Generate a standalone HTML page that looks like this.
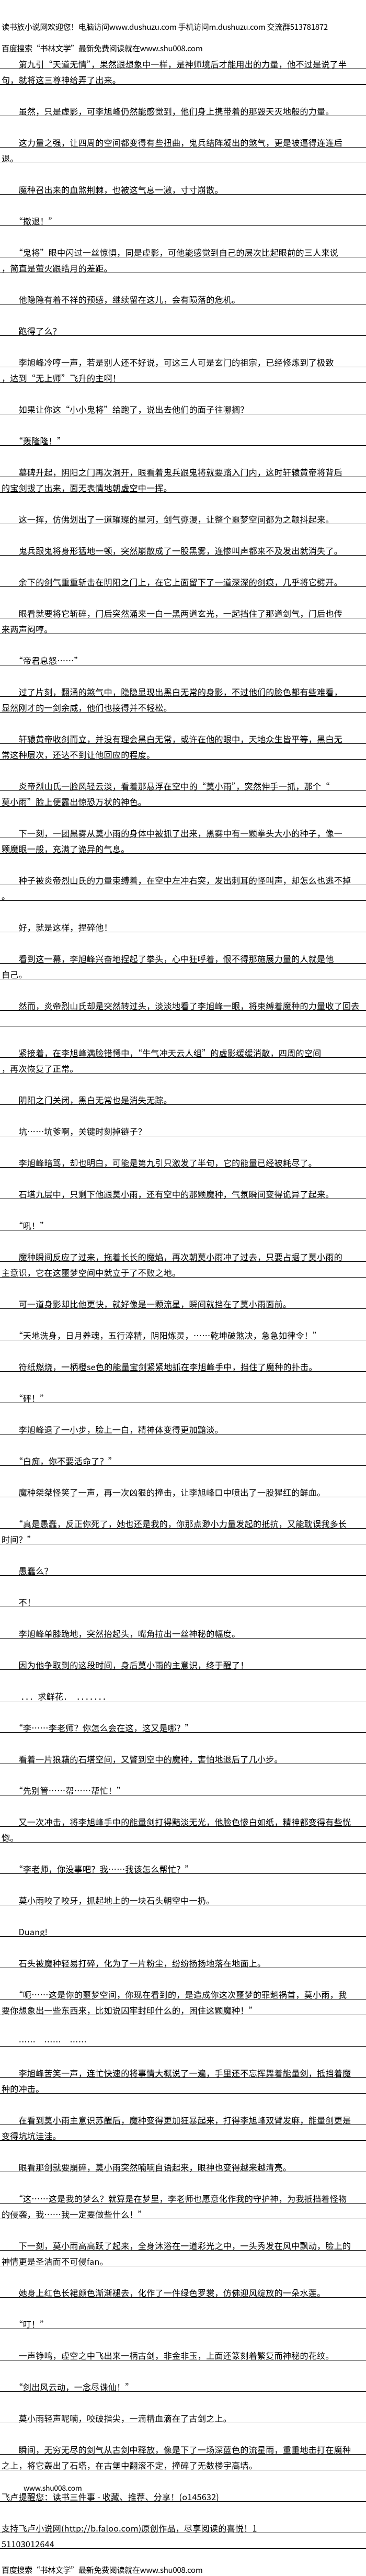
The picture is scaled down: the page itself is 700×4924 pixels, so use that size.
<!DOCTYPE html>
<html><head><meta charset="utf-8"><style>
html,body{margin:0;padding:0;background:#fff;}
body{width:700px;height:4924px;position:relative;overflow:hidden;font-family:"Noto Sans CJK SC","WenQuanYi Zen Hei","Liberation Sans",sans-serif;font-size:16px;color:#000;letter-spacing:0.3px;}
.l{position:absolute;left:0;width:700px;height:30px;box-sizing:border-box;border-bottom:1px solid #000;padding:12px 0 0 3px;line-height:17px;white-space:nowrap;overflow:hidden;}
.h{position:absolute;left:3px;height:20px;line-height:20px;white-space:nowrap;font-size:15px;letter-spacing:-0.3px;}
</style></head><body>
<div class="h" style="top:42px">读书族小说网欢迎您！电脑访问www.dushuzu.com 手机访问m.dushuzu.com 交流群513781872</div>
<div class="h" style="top:83px">百度搜索“书林文学”最新免费阅读就在www.shu008.com</div>

<div class="l" style="top:102px">　　第九引“天道无情”，果然跟想象中一样，是神师境后才能用出的力量，他不过是说了半</div>
<div class="l" style="top:132px">句，就将这三尊神给弄了出来。</div>
<div class="l" style="top:192px">　　虽然，只是虚影，可李旭峰仍然能感觉到，他们身上携带着的那毁天灭地般的力量。</div>
<div class="l" style="top:252px">　　这力量之强，让四周的空间都变得有些扭曲，鬼兵结阵凝出的煞气，更是被逼得连连后</div>
<div class="l" style="top:282px">退。</div>
<div class="l" style="top:342px">　　魔种召出来的血煞荆棘，也被这气息一激，寸寸崩散。</div>
<div class="l" style="top:402px">　　“撤退！”</div>
<div class="l" style="top:462px">　　“鬼将”眼中闪过一丝惊惧，同是虚影，可他能感觉到自己的层次比起眼前的三人来说</div>
<div class="l" style="top:492px">，简直是萤火跟皓月的差距。</div>
<div class="l" style="top:552px">　　他隐隐有着不祥的预感，继续留在这儿，会有陨落的危机。</div>
<div class="l" style="top:612px">　　跑得了么？</div>
<div class="l" style="top:672px">　　李旭峰冷哼一声，若是别人还不好说，可这三人可是玄门的祖宗，已经修炼到了极致</div>
<div class="l" style="top:702px">，达到“无上师”飞升的主啊！</div>
<div class="l" style="top:762px">　　如果让你这“小小鬼将”给跑了，说出去他们的面子往哪搁？</div>
<div class="l" style="top:822px">　　“轰隆隆！”</div>
<div class="l" style="top:882px">　　墓碑升起，阴阳之门再次洞开，眼看着鬼兵跟鬼将就要踏入门内，这时轩辕黄帝将背后</div>
<div class="l" style="top:912px">的宝剑拔了出来，面无表情地朝虚空中一挥。</div>
<div class="l" style="top:972px">　　这一挥，仿佛划出了一道璀璨的星河，剑气弥漫，让整个噩梦空间都为之颤抖起来。</div>
<div class="l" style="top:1032px">　　鬼兵跟鬼将身形猛地一顿，突然崩散成了一股黑雾，连惨叫声都来不及发出就消失了。</div>
<div class="l" style="top:1092px">　　余下的剑气重重斩击在阴阳之门上，在它上面留下了一道深深的剑痕，几乎将它劈开。</div>
<div class="l" style="top:1152px">　　眼看就要将它斩碎，门后突然涌来一白一黑两道玄光，一起挡住了那道剑气，门后也传</div>
<div class="l" style="top:1182px">来两声闷哼。</div>
<div class="l" style="top:1242px">　　“帝君息怒……”</div>
<div class="l" style="top:1302px">　　过了片刻，翻涌的煞气中，隐隐显现出黑白无常的身影，不过他们的脸色都有些难看，</div>
<div class="l" style="top:1332px">显然刚才的一剑余威，他们也接得并不轻松。</div>
<div class="l" style="top:1392px">　　轩辕黄帝收剑而立，并没有理会黑白无常，或许在他的眼中，天地众生皆平等，黑白无</div>
<div class="l" style="top:1422px">常这种层次，还达不到让他回应的程度。</div>
<div class="l" style="top:1482px">　　炎帝烈山氏一脸风轻云淡，看着那悬浮在空中的“莫小雨”，突然伸手一抓，那个“</div>
<div class="l" style="top:1512px">莫小雨”脸上便露出惊恐万状的神色。</div>
<div class="l" style="top:1572px">　　下一刻，一团黑雾从莫小雨的身体中被抓了出来，黑雾中有一颗拳头大小的种子，像一</div>
<div class="l" style="top:1602px">颗魔眼一般，充满了诡异的气息。</div>
<div class="l" style="top:1662px">　　种子被炎帝烈山氏的力量束缚着，在空中左冲右突，发出刺耳的怪叫声，却怎么也逃不掉</div>
<div class="l" style="top:1692px">。</div>
<div class="l" style="top:1752px">　　好，就是这样，捏碎他！</div>
<div class="l" style="top:1812px">　　看到这一幕，李旭峰兴奋地捏起了拳头，心中狂呼着，恨不得那施展力量的人就是他</div>
<div class="l" style="top:1842px">自己。</div>
<div class="l" style="top:1902px">　　然而，炎帝烈山氏却是突然转过头，淡淡地看了李旭峰一眼，将束缚着魔种的力量收了回去</div>
<div class="l" style="top:1932px"></div>
<div class="l" style="top:1992px">　　紧接着，在李旭峰满脸错愕中，“牛气冲天云人组”的虚影缓缓消散，四周的空间</div>
<div class="l" style="top:2022px">，再次恢复了正常。</div>
<div class="l" style="top:2082px">　　阴阳之门关闭，黑白无常也是消失无踪。</div>
<div class="l" style="top:2142px">　　坑……坑爹啊，关键时刻掉链子？</div>
<div class="l" style="top:2202px">　　李旭峰暗骂，却也明白，可能是第九引只激发了半句，它的能量已经被耗尽了。</div>
<div class="l" style="top:2262px">　　石塔九层中，只剩下他跟莫小雨，还有空中的那颗魔种，气氛瞬间变得诡异了起来。</div>
<div class="l" style="top:2322px">　　“吼！”</div>
<div class="l" style="top:2382px">　　魔种瞬间反应了过来，拖着长长的魔焰，再次朝莫小雨冲了过去，只要占据了莫小雨的</div>
<div class="l" style="top:2412px">主意识，它在这噩梦空间中就立于了不败之地。</div>
<div class="l" style="top:2472px">　　可一道身影却比他更快，就好像是一颗流星，瞬间就挡在了莫小雨面前。</div>
<div class="l" style="top:2532px">　　“天地洗身，日月养魂，五行淬精，阴阳炼灵，……乾坤破煞决，急急如律令！”</div>
<div class="l" style="top:2592px">　　符纸燃烧，一柄橙se色的能量宝剑紧紧地抓在李旭峰手中，挡住了魔种的扑击。</div>
<div class="l" style="top:2652px">　　“砰！”</div>
<div class="l" style="top:2712px">　　李旭峰退了一小步，脸上一白，精神体变得更加黯淡。</div>
<div class="l" style="top:2772px">　　“白痴，你不要活命了？”</div>
<div class="l" style="top:2832px">　　魔种桀桀怪笑了一声，再一次凶狠的撞击，让李旭峰口中喷出了一股猩红的鲜血。</div>
<div class="l" style="top:2892px">　　“真是愚蠢，反正你死了，她也还是我的，你那点渺小力量发起的抵抗，又能耽误我多长</div>
<div class="l" style="top:2922px">时间？”</div>
<div class="l" style="top:2982px">　　愚蠢么？</div>
<div class="l" style="top:3042px">　　不！</div>
<div class="l" style="top:3102px">　　李旭峰单膝跪地，突然抬起头，嘴角拉出一丝神秘的幅度。</div>
<div class="l" style="top:3162px">　　因为他争取到的这段时间，身后莫小雨的主意识，终于醒了！</div>
<div class="l" style="top:3222px">　　 ．．．求鲜花．　．．．．．．．</div>
<div class="l" style="top:3282px">　　“李……李老师？你怎么会在这，这又是哪？”</div>
<div class="l" style="top:3342px">　　看着一片狼藉的石塔空间，又瞥到空中的魔种，害怕地退后了几小步。</div>
<div class="l" style="top:3402px">　　“先别管……帮……帮忙！”</div>
<div class="l" style="top:3462px">　　又一次冲击，将李旭峰手中的能量剑打得黯淡无光，他脸色惨白如纸，精神都变得有些恍</div>
<div class="l" style="top:3492px">惚。</div>
<div class="l" style="top:3552px">　　“李老师，你没事吧？我……我该怎么帮忙？”</div>
<div class="l" style="top:3612px">　　莫小雨咬了咬牙，抓起地上的一块石头朝空中一扔。</div>
<div class="l" style="top:3672px">　　Duang!</div>
<div class="l" style="top:3732px">　　石头被魔种轻易打碎，化为了一片粉尘，纷纷扬扬地落在地面上。</div>
<div class="l" style="top:3792px">　　“呃……这是你的噩梦空间，你现在看到的，是造成你这次噩梦的罪魁祸首，莫小雨，我</div>
<div class="l" style="top:3822px">要你想象出一些东西来，比如说囚牢封印什么的，困住这颗魔种！”</div>
<div class="l" style="top:3882px">　　……　……　……</div>
<div class="l" style="top:3942px">　　李旭峰苦笑一声，连忙快速的将事情大概说了一遍，手里还不忘挥舞着能量剑，抵挡着魔</div>
<div class="l" style="top:3972px">种的冲击。</div>
<div class="l" style="top:4032px">　　在看到莫小雨主意识苏醒后，魔种变得更加狂暴起来，打得李旭峰双臂发麻，能量剑更是</div>
<div class="l" style="top:4062px">变得坑坑洼洼。</div>
<div class="l" style="top:4122px">　　眼看那剑就要崩碎，莫小雨突然喃喃自语起来，眼神也变得越来越清亮。</div>
<div class="l" style="top:4182px">　　“这……这是我的梦么？就算是在梦里，李老师也愿意化作我的守护神，为我抵挡着怪物</div>
<div class="l" style="top:4212px">的侵袭，我……我一定要做些什么！”</div>
<div class="l" style="top:4272px">　　下一刻，莫小雨高高跃了起来，全身沐浴在一道彩光之中，一头秀发在风中飘动，脸上的</div>
<div class="l" style="top:4302px">神情更是圣洁而不可侵fan。</div>
<div class="l" style="top:4362px">　　她身上红色长裙颜色渐渐褪去，化作了一件绿色罗裳，仿佛迎风绽放的一朵水莲。</div>
<div class="l" style="top:4422px">　　“叮！”</div>
<div class="l" style="top:4482px">　　一声铮鸣，虚空之中飞出来一柄古剑，非金非玉，上面还篆刻着繁复而神秘的花纹。</div>
<div class="l" style="top:4542px">　　“剑出风云动，一念尽诛仙！”</div>
<div class="l" style="top:4602px">　　莫小雨轻声呢喃，咬破指尖，一滴精血滴在了古剑之上。</div>
<div class="l" style="top:4662px">　　瞬间，无穷无尽的剑气从古剑中释放，像是下了一场深蓝色的流星雨，重重地击打在魔种</div>
<div class="l" style="top:4692px">之上，将它轰出了石塔，在古堡中翻滚不定，撞碎了无数楼宇高墙。</div>
<div class="h" style="top:4746px;left:45px;font-size:14px;">www.shu008.com</div>
<div class="l" style="top:4752px">飞卢提醒您：读书三件事 - 收藏、推荐、分享！(o145632)</div>
<div class="l" style="top:4812px">支持飞卢小说网(http://b.faloo.com)原创作品，尽享阅读的喜悦！1</div>
<div class="l" style="top:4842px">51103012644</div>
<div class="h" style="top:4903px">百度搜索“书林文学”最新免费阅读就在www.shu008.com</div>
</body></html>
